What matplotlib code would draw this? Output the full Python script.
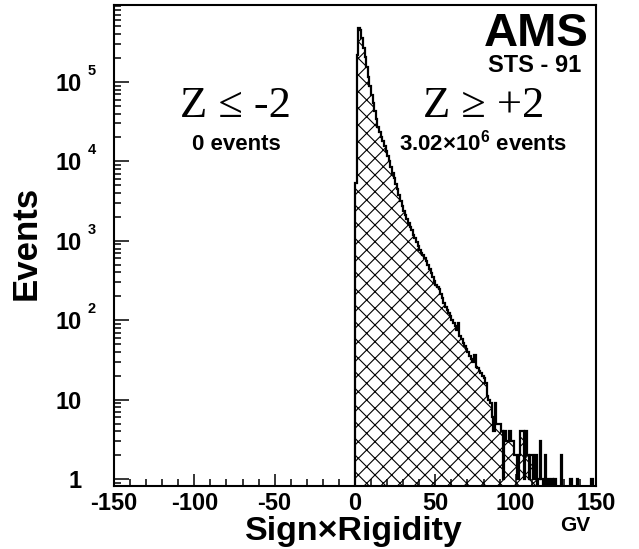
import matplotlib
matplotlib.use('Agg')
import matplotlib.pyplot as plt
import numpy as np
from matplotlib.ticker import LogLocator, MultipleLocator, NullFormatter
from matplotlib.transforms import blended_transform_factory, offset_copy

plt.rcParams['font.family'] = ['Liberation Sans', 'DejaVu Sans']
plt.rcParams['font.weight'] = 'bold'
plt.rcParams['mathtext.fontset'] = 'custom'
plt.rcParams['mathtext.rm'] = 'Liberation Sans:bold'
plt.rcParams['mathtext.it'] = 'Liberation Sans:bold'
plt.rcParams['mathtext.bf'] = 'Liberation Sans:bold'
plt.rcParams['hatch.linewidth'] = 0.8

# histogramme, 1 GV par bin, de 0 a 150 GV
bin_edges = np.arange(0, 151, 1)
counts = [
    5400, 220000, 480000, 450000, 355000, 269000, 204000, 155000, 117000, 89000,
    69000, 54000, 43000, 34000, 27000, 23400, 20400, 17800, 15500, 13500,
    11700, 10000, 8500, 7200, 6200, 5200, 4500, 3800, 3200, 2750,
    2400, 2140, 1900, 1700, 1510, 1350, 1200, 1070, 955, 850,
    760, 710, 660, 600, 560, 500, 440, 390, 350, 310,
    275, 263, 245, 214, 190, 166, 148, 135, 123, 112,
    102, 93, 85, 76, 93, 63, 58, 52, 48, 44,
    40, 36, 33, 30, 37, 26, 25, 23, 22, 20,
    19, 16, 11, 10, 9, 6, 4, 9, 5, 5,
    5, 4, 1, 4, 3, 3, 4, 3, 3, 2,
    2, 1, 2, 4, 4, 1, 4, 2, 1, 2,
    2, 1, 2, 0, 1, 3, 1, 0, 2, 0,
    1, 0, 1, 0, 1, 0, 0, 0, 2, 0,
    0, 0, 0, 0, 1, 0, 0, 0, 1, 0,
    0, 0, 0, 0, 0, 0, 0, 1, 0, 0,
]
counts = np.array(counts, dtype=float)

x_ticks = [-150, -100, -50, 0, 50, 100, 150]
y_ticks = [1, 10, 100, 1e3, 1e4, 1e5]
y_ticklabels = ['1', '10', '10', '10', '10', '10']
y_exponents = ['', '', '2', '3', '4', '5']

fig = plt.figure(figsize=(6.39, 5.49), dpi=100)
W, H = 639.0, 549.0
ax = fig.add_axes([114 / W, 1 - 486 / H, (596 - 114) / W, (486 - 5) / H])

# les bins vides tombent en bas (echelle log)
shown = np.where(counts > 0, counts, 1e-3)
ax.stairs(shown, bin_edges, baseline=1e-3, fill=True, facecolor='none',
          edgecolor='black', hatch='xx', linewidth=0)
ax.stairs(shown, bin_edges, baseline=1e-3, color='black', linewidth=1.6)

ax.set_yscale('log')
ax.set_xlim(-150, 150)
ax.set_ylim(0.82, 9.3e5)

for s in ax.spines.values():
    s.set_linewidth(1.5)

ax.set_xticks(x_ticks)
ax.set_xticklabels([str(v) for v in x_ticks])
ax.xaxis.set_minor_locator(MultipleLocator(10))
ax.set_yticks(y_ticks)
ax.set_yticklabels(y_ticklabels)
ax.yaxis.set_minor_locator(LogLocator(base=10, subs=np.arange(2, 10)))
ax.yaxis.set_minor_formatter(NullFormatter())
ax.tick_params(axis='both', which='both', direction='in', top=False, right=False,
               width=1.1, labelsize=17)
ax.tick_params(axis='y', which='major', length=11, pad=23)
ax.tick_params(axis='y', which='minor', length=5)
ax.tick_params(axis='x', which='major', length=8.5, pad=4.5)
ax.tick_params(axis='x', which='minor', length=5)

# exposants des etiquettes de l'axe y
trans = offset_copy(blended_transform_factory(ax.transAxes, ax.transData),
                    fig=fig, y=11, units='dots')
for v, e in zip(y_ticks, y_exponents):
    if e:
        ax.text((88 - 114) / 482, v, e, transform=trans, ha='left', va='center',
                fontsize=10.5, fontweight='bold')

ax.set_ylabel('Events', fontsize=25, fontweight='bold')
ax.yaxis.set_label_coords(-0.149, 0.505)
ax.set_xlabel('Sign\u00d7Rigidity', fontsize=24.5, fontweight='bold')
ax.xaxis.set_label_coords(0.498, -0.063)

def ftext(x, y, s, **kw):
    fig.text(x / W, 1 - y / H, s, **kw)

ftext(589, 46, 'AMS', fontsize=34, fontweight='bold', ha='right', va='baseline')
ftext(581, 72, 'STS - 91', fontsize=17, fontweight='bold', ha='right', va='baseline')
serif = ['Liberation Serif', 'DejaVu Serif']
ftext(484, 117, 'Z \u2265 +2', fontsize=32, family=serif, fontweight='normal',
      ha='center', va='baseline')
ftext(236, 117, 'Z \u2264 -2', fontsize=32, family=serif, fontweight='normal',
      ha='center', va='baseline')
ftext(483, 150, '3.02\u00d710$^{6}$ events', fontsize=16, fontweight='bold',
      ha='center', va='baseline')
ftext(236, 150, '0 events', fontsize=16, fontweight='bold', ha='center', va='baseline')
ftext(575, 531, 'GV', fontsize=15, fontweight='bold', ha='center', va='baseline')

fig.savefig('out.png', dpi=100)
